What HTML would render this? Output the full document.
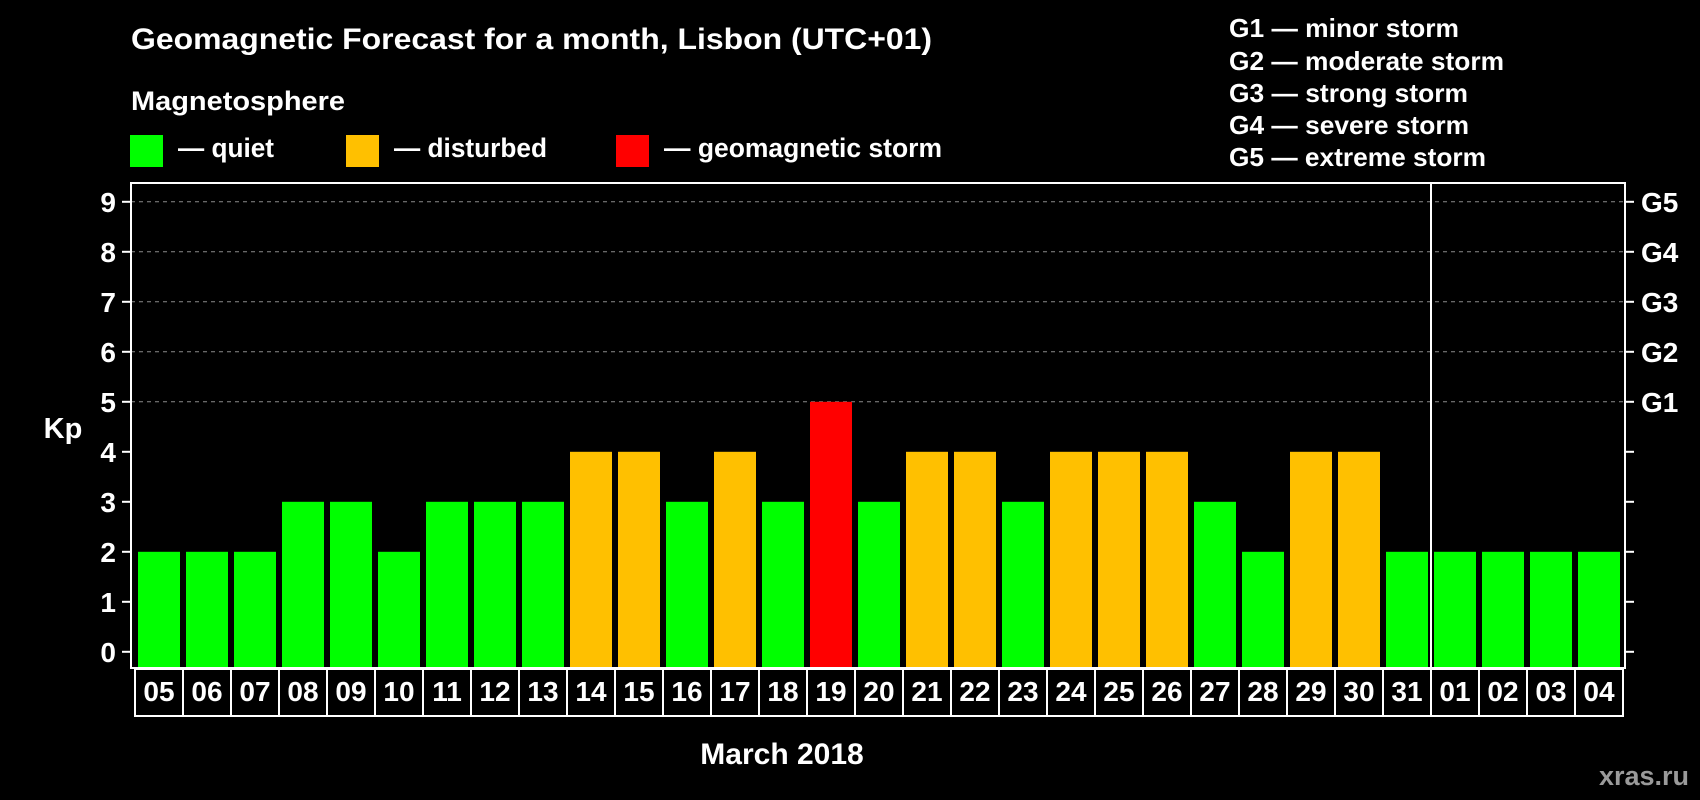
<!DOCTYPE html>
<html><head><meta charset="utf-8"><style>
html,body{margin:0;padding:0;background:#000;}
svg{display:block;font-family:"Liberation Sans",Arial,sans-serif;font-weight:bold;}
</style></head><body>
<svg id="chart" width="1700" height="800" viewBox="0 0 1700 800" xmlns="http://www.w3.org/2000/svg">
<rect width="1700" height="800" fill="#000"/>
<text x="131" y="49" fill="#fff" font-size="30" textLength="801" lengthAdjust="spacingAndGlyphs">Geomagnetic Forecast for a month, Lisbon (UTC+01)</text>
<text x="131" y="110" fill="#fff" font-size="27" textLength="214" lengthAdjust="spacingAndGlyphs">Magnetosphere</text>
<g>
<rect x="130" y="135" width="33" height="32" fill="#00ff00"/>
<text x="178" y="157" fill="#fff" font-size="27" textLength="96" lengthAdjust="spacingAndGlyphs">— quiet</text></g>
<g>
<rect x="346" y="135" width="33" height="32" fill="#ffc000"/>
<text x="394" y="157" fill="#fff" font-size="27" textLength="153" lengthAdjust="spacingAndGlyphs">— disturbed</text></g>
<g>
<rect x="616" y="135" width="33" height="32" fill="#ff0000"/>
<text x="664" y="157" fill="#fff" font-size="27" textLength="278" lengthAdjust="spacingAndGlyphs">— geomagnetic storm</text></g>
<g fill="#fff" font-size="26">
<text x="1229" y="37" textLength="230" lengthAdjust="spacingAndGlyphs">G1 — minor storm</text>
<text x="1229" y="70" textLength="275" lengthAdjust="spacingAndGlyphs">G2 — moderate storm</text>
<text x="1229" y="102" textLength="239" lengthAdjust="spacingAndGlyphs">G3 — strong storm</text>
<text x="1229" y="134" textLength="240" lengthAdjust="spacingAndGlyphs">G4 — severe storm</text>
<text x="1229" y="166" textLength="257" lengthAdjust="spacingAndGlyphs">G5 — extreme storm</text>
</g>
<g id="grid"></g><g id="bars"></g><g id="axes"></g>
<text x="63" y="438" fill="#fff" font-size="29" text-anchor="middle">Kp</text>
<text x="782" y="764" fill="#fff" font-size="30" text-anchor="middle">March 2018</text>
<text x="1689" y="785" fill="#9a9a9a" font-size="27" text-anchor="end">xras.ru</text>
</svg>
<script>
const days = ["05","06","07","08","09","10","11","12","13","14","15","16","17","18","19","20","21","22","23","24","25","26","27","28","29","30","31","01","02","03","04"];
const kp = [2,2,2,3,3,2,3,3,3,4,4,3,4,3,5,3,4,4,3,4,4,4,3,2,4,4,2,2,2,2,2];
const yTicks = [0,1,2,3,4,5,6,7,8,9];
const gLabels = ["G1","G2","G3","G4","G5"];
const gLevels = [5,6,7,8,9];
const NS="http://www.w3.org/2000/svg";
const L=131,R=1625,T=183,B=668,X0=135,SW=48,Y0=651.8,YU=50;
const x=i=>X0+SW*i;
const y=v=>Y0-YU*v;
function mk(tag,at,parent){const e=document.createElementNS(NS,tag);for(const k in at)e.setAttribute(k,at[k]);parent.appendChild(e);return e;}
const grid=document.getElementById('grid'),bars=document.getElementById('bars'),axes=document.getElementById('axes');
gLevels.forEach(v=>{const l=mk('line',{x1:L,x2:R,y1:y(v),y2:y(v),stroke:'#8a8a8a','stroke-width':1,'stroke-dasharray':'4,4'},grid);

});
kp.forEach((v,i)=>{const c=v>=5?'#ff0000':(v>=4?'#ffc000':'#00ff00');
const r=mk('rect',{x:x(i)+3,y:y(v),width:42,height:B-1-y(v),fill:c},bars);


const cell=mk('rect',{x:x(i),y:669,width:SW,height:47,fill:'none',stroke:'#fff','stroke-width':2},axes);


const t=mk('text',{x:x(i)+SW/2,y:701,fill:'#fff','font-size':28,'text-anchor':'middle'},axes);t.textContent=days[i];

});
const frame=mk('rect',{x:L,y:T,width:R-L,height:B-T,fill:'none',stroke:'#fff','stroke-width':2},axes);


const div=mk('line',{x1:1431,x2:1431,y1:T,y2:B,stroke:'#fff','stroke-width':2},axes);


yTicks.forEach(v=>{mk('line',{x1:122,x2:L,y1:y(v),y2:y(v),stroke:'#fff','stroke-width':2},axes);
mk('line',{x1:R,x2:R+9,y1:y(v),y2:y(v),stroke:'#fff','stroke-width':2},axes);
const t=mk('text',{x:116,y:y(v)+10,fill:'#fff','font-size':28,'text-anchor':'end'},axes);t.textContent=v;

});
gLevels.forEach((v,i)=>{const t=mk('text',{x:1641,y:y(v)+10,fill:'#fff','font-size':28},axes);t.textContent=gLabels[i];

});
</script>
</body></html>
